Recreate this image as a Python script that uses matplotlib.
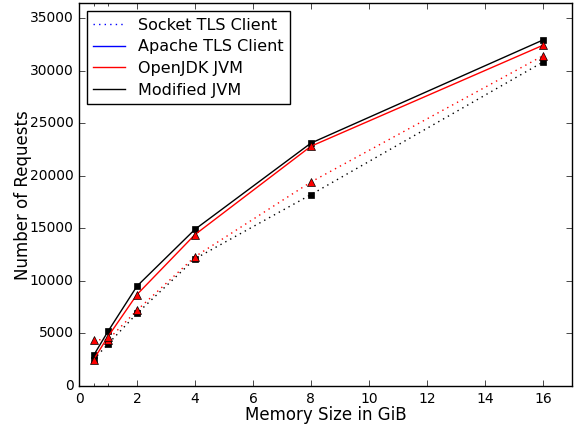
import matplotlib
matplotlib.use("Agg")
import matplotlib.pyplot as plt
from matplotlib.lines import Line2D

plt.style.use("classic")

memory = [0.5, 1, 2, 4, 8, 16]
apache_modified = [2900, 5200, 9500, 14900, 23100, 32900]
apache_openjdk = [2500, 4700, 8700, 14400, 22800, 32400]
socket_openjdk = [4400, 4400, 7200, 12300, 19400, 31400]
socket_modified = [2500, 4000, 6900, 12100, 18200, 30800]

legend_labels = ["Socket TLS Client", "Apache TLS Client", "OpenJDK JVM", "Modified JVM"]

fig = plt.figure(figsize=(5.77, 4.25), dpi=100)
ax = fig.add_axes([0.137, 0.0918, 0.854, 0.9005])

ax.plot(memory, socket_modified, color="black", linestyle=":", marker="s", markersize=5)
ax.plot(memory, socket_openjdk, color="red", linestyle=":", marker="^", markersize=6)
ax.plot(memory, apache_modified, color="black", linestyle="-", marker="s", markersize=5)
ax.plot(memory, apache_openjdk, color="red", linestyle="-", marker="^", markersize=6)

ax.set_xlim(0, 17)
ax.set_ylim(0, 36400)
ax.set_xticks(range(0, 17, 2))
ax.set_xticks([0.5, 1], minor=True)
ax.set_yticks(range(0, 35001, 5000))
ax.tick_params(labelsize=10)
ax.set_xlabel("Memory Size in GiB", fontsize=12, labelpad=0)
ax.set_ylabel("Number of Requests", fontsize=12, labelpad=-2)

handles = [
    Line2D([], [], color="blue", linestyle=":"),
    Line2D([], [], color="blue", linestyle="-"),
    Line2D([], [], color="red", linestyle="-"),
    Line2D([], [], color="black", linestyle="-"),
]
ax.legend(handles, legend_labels, loc="upper left", fontsize=11.5, numpoints=1,
          labelspacing=0.42, borderaxespad=0.5, handlelength=2.0)

fig.savefig("out.png", dpi=100)
